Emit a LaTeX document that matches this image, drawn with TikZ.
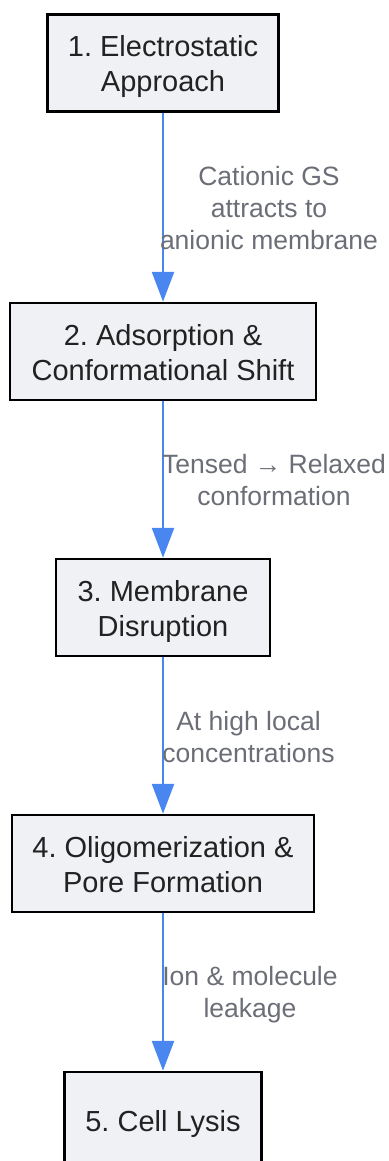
\documentclass[tikz,border=0pt]{standalone}
\usepackage{fontspec}
\setmainfont{Liberation Sans}
\usetikzlibrary{arrows.meta}
\definecolor{boxfill}{HTML}{F0F1F4}
\definecolor{boxtext}{HTML}{222222}
\definecolor{edgeblue}{HTML}{4A86F0}
\definecolor{labelgray}{HTML}{6B6E76}
\frenchspacing
\newcommand\boxlines[1]{\raisebox{-4pt}[\height][\depth]{\begin{tabular}{@{}c@{}}#1\end{tabular}}}
\tikzset{
  stepbox/.style={draw=black, line width=2.5pt, fill=boxfill, text=boxtext,
    inner sep=0pt, minimum height=97pt,
    font=\fontsize{29}{35}\selectfont},
  flow/.style={draw=edgeblue, line width=2.6pt,
    -{Triangle[length=30pt,width=22pt]}},
  edgelabel/.style={text=labelgray, align=center, inner sep=0pt,
    font=\fontsize{26.5}{32}\selectfont}
}
\begin{document}
\begin{tikzpicture}[x=1pt,y=-1pt]
\useasboundingbox (0,0) rectangle (388,1161);
\node[stepbox, minimum width=231pt] (s1) at (163,63) {\boxlines{1. Electrostatic\\Approach}};
\node[stepbox, minimum width=306pt] (s2) at (163,351.5) {\boxlines{2. Adsorption \&\\Conformational Shift}};
\node[stepbox, minimum width=214pt] (s3) at (163,607.5) {\boxlines{3. Membrane\\Disruption}};
\node[stepbox, minimum width=302pt] (s4) at (163,863.5) {\boxlines{4. Oligomerization \&\\Pore Formation}};
\node[stepbox, minimum width=197pt] (s5) at (163,1120.5) {\boxlines{5. Cell Lysis}};
\draw[flow] (s1.south) -- (s2.north);
\draw[flow] (s2.south) -- (s3.north);
\draw[flow] (s3.south) -- (s4.north);
\draw[flow] (s4.south) -- (s5.north);
\node[edgelabel] (l1) at (269,208) {Cationic GS\\attracts to\\anionic membrane};
\node[edgelabel] (l2) at (274,480) {Tensed → Relaxed\\conformation};
\node[edgelabel] (l3) at (248.5,737) {At high local\\concentrations};
\node[edgelabel] (l4) at (250,995) {Ion \& molecule\\leakage};
\end{tikzpicture}
\end{document}
